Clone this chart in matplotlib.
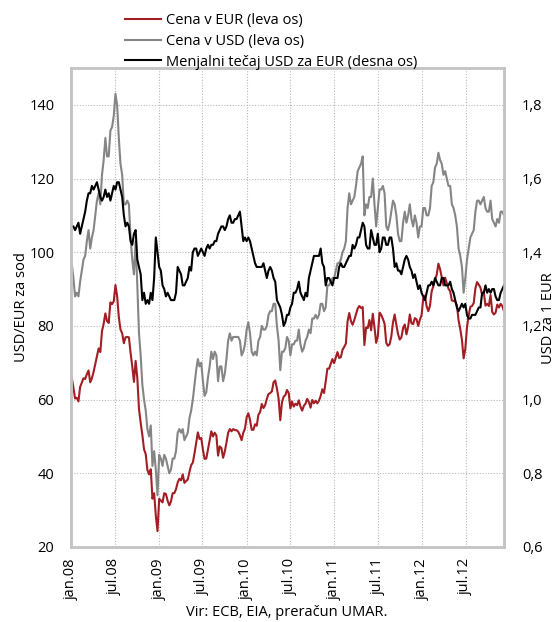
import matplotlib
matplotlib.use("Agg")
import matplotlib.pyplot as plt
import numpy as np
import pandas as pd

plt.rcParams['font.family'] = ['Open Sans', 'DejaVu Sans']

# weekly values (Fridays), jan 2008 - dec 2012
start = '2008-01-04'

# Brent v USD za sod
usd = [
    97, 93, 88, 89, 88, 92, 95, 98, 99, 103, 106, 101, 104,
    106, 110, 114, 116, 113, 121, 125, 131, 126, 126, 133, 134, 137,
    143, 140, 131, 124, 121, 113, 113, 114, 113, 104, 98, 94, 103,
    91, 78, 72, 64, 60, 57, 52, 50, 53, 42, 46, 41, 34,
    # 2009
    45, 44, 42, 45, 44, 42, 40, 41, 44, 44, 46, 51, 52,
    51, 52, 49, 50, 51, 55, 57, 60, 64, 68, 71, 69, 70,
    65, 61, 62, 66, 69, 73, 71, 73, 72, 65, 69, 69, 65,
    67, 71, 76, 78, 76, 77, 77, 77, 77, 76, 72, 73, 75,
    # 2010
    79, 81, 78, 73, 72, 73, 72, 76, 77, 80, 79, 79, 80,
    83, 84, 84, 86, 86, 80, 76, 68, 73, 73, 74, 77, 76,
    72, 75, 75, 76, 76, 79, 75, 73, 74, 76, 77, 79, 78,
    82, 82, 83, 82, 83, 86, 86, 84, 85, 91, 91, 92, 93, 93,
    # 2011
    95, 97, 97, 98, 100, 101, 103, 112, 116, 113, 114, 115,
    118, 122, 123, 124, 126, 110, 113, 112, 115, 115, 120, 113, 107,
    112, 117, 117, 118, 116, 107, 106, 108, 111, 114, 113, 110, 105, 103,
    103, 108, 111, 108, 110, 113, 109, 107, 110, 108, 104, 107, 107,
    # 2012
    112, 112, 110, 110, 112, 118, 119, 123, 124, 127, 125, 124, 121,
    122, 120, 118, 118, 113, 112, 110, 107, 101, 99, 96, 89, 93,
    98, 101, 104, 105, 106, 111, 114, 114, 113, 114, 115, 112, 111,
    111, 114, 109, 108, 107, 109, 108, 111, 111, 110,
]

# Brent v EUR za sod
eur = [
    66.0, 63.3, 60.3, 60.5, 59.5, 63.4, 64.6, 65.8, 65.6, 66.9, 67.9, 64.7, 65.8,
    67.5, 69.6, 71.7, 73.9, 72.9, 78.6, 80.6, 83.4, 81.3, 80.8, 86.4, 85.9, 86.7,
    91.1, 88.1, 82.4, 79.0, 78.0, 75.3, 76.9, 77.0, 76.9, 72.7, 69.0, 64.8, 70.5,
    65.9, 57.4, 53.7, 50.4, 46.5, 45.2, 40.9, 39.7, 41.1, 33.1, 34.6, 28.5, 24.3,
    # 2009
    33.1, 32.6, 32.1, 34.6, 34.4, 32.6, 31.3, 32.3, 34.6, 34.6, 35.7, 37.5, 38.5,
    38.1, 39.7, 37.4, 37.9, 38.3, 40.4, 42.2, 42.9, 45.4, 48.2, 51.1, 49.3, 49.6,
    46.4, 43.9, 44.0, 46.5, 48.9, 51.4, 50.0, 51.0, 50.3, 44.8, 47.3, 46.9, 44.2,
    45.9, 48.3, 51.0, 52.0, 51.4, 52.0, 51.7, 51.7, 51.3, 50.3, 49.0, 51.0, 52.1,
    # 2010
    55.2, 56.3, 54.5, 51.8, 51.8, 53.3, 52.9, 55.9, 56.6, 58.8, 57.7, 58.5, 60.2,
    61.5, 61.8, 62.2, 64.7, 65.2, 63.0, 60.3, 54.4, 59.3, 60.8, 61.2, 62.6, 61.8,
    57.6, 59.5, 58.1, 58.9, 58.5, 59.8, 58.1, 57.0, 58.3, 58.9, 60.2, 59.4, 57.8,
    59.9, 59.0, 59.7, 59.0, 59.7, 61.0, 62.8, 61.8, 64.9, 68.4, 68.4, 69.7, 71.0, 69.9,
    # 2011
    71.4, 72.9, 71.3, 71.5, 73.5, 74.3, 75.2, 81.2, 83.5, 81.3, 80.3, 81.6,
    83.1, 84.7, 85.4, 84.9, 85.1, 74.8, 79.6, 79.4, 81.6, 78.8, 83.3, 79.6, 75.4,
    77.2, 83.6, 83.0, 81.9, 80.6, 75.4, 74.6, 75.0, 77.1, 80.9, 83.1, 80.3, 77.8, 76.3,
    76.9, 79.4, 80.4, 77.7, 79.7, 83.1, 80.7, 80.5, 82.1, 81.8, 80.0, 81.7, 82.9,
    # 2012
    87.5, 88.2, 85.3, 84.0, 85.5, 89.4, 90.8, 92.5, 93.9, 96.9, 95.4, 93.2, 91.0,
    93.1, 91.6, 90.1, 89.4, 86.9, 86.8, 86.6, 85.6, 81.5, 79.2, 76.2, 71.2, 73.8,
    79.7, 82.8, 85.2, 85.4, 86.2, 90.2, 91.9, 91.2, 90.4, 88.4, 89.1, 85.5, 86.0,
    85.4, 88.4, 83.8, 83.1, 83.6, 85.8, 85.0, 86.0, 85.4, 84.0,
]

# menjalni tecaj USD za 1 EUR
rate = [
    1.47, 1.47, 1.46, 1.47, 1.48, 1.45, 1.47, 1.49, 1.51, 1.54, 1.56, 1.56, 1.58,
    1.57, 1.58, 1.59, 1.57, 1.55, 1.54, 1.55, 1.57, 1.55, 1.56, 1.54, 1.56, 1.58,
    1.57, 1.59, 1.59, 1.57, 1.55, 1.50, 1.47, 1.48, 1.47, 1.43, 1.42, 1.45, 1.46,
    1.38, 1.36, 1.34, 1.27, 1.29, 1.26, 1.27, 1.26, 1.29, 1.27, 1.33, 1.44, 1.40,
    # 2009
    1.36, 1.35, 1.31, 1.30, 1.28, 1.29, 1.28, 1.27, 1.27, 1.27, 1.29, 1.36, 1.35,
    1.34, 1.31, 1.31, 1.32, 1.33, 1.36, 1.35, 1.40, 1.41, 1.41, 1.39, 1.40, 1.41,
    1.40, 1.39, 1.41, 1.42, 1.41, 1.42, 1.42, 1.43, 1.43, 1.45, 1.46, 1.47, 1.47,
    1.46, 1.47, 1.49, 1.50, 1.48, 1.48, 1.49, 1.49, 1.50, 1.51, 1.47, 1.43, 1.44,
    # 2010
    1.43, 1.44, 1.43, 1.41, 1.39, 1.37, 1.36, 1.36, 1.36, 1.36, 1.37, 1.35, 1.33,
    1.35, 1.36, 1.35, 1.33, 1.32, 1.27, 1.26, 1.25, 1.23, 1.20, 1.21, 1.23, 1.23,
    1.25, 1.26, 1.29, 1.29, 1.30, 1.32, 1.29, 1.28, 1.27, 1.29, 1.28, 1.33, 1.35,
    1.37, 1.39, 1.39, 1.39, 1.39, 1.41, 1.37, 1.36, 1.31, 1.33, 1.33, 1.32, 1.31, 1.33,
    # 2011
    1.33, 1.33, 1.36, 1.37, 1.36, 1.36, 1.37, 1.38, 1.39, 1.39, 1.42, 1.41,
    1.42, 1.44, 1.44, 1.46, 1.48, 1.47, 1.42, 1.41, 1.41, 1.46, 1.44, 1.42, 1.42,
    1.45, 1.40, 1.41, 1.44, 1.44, 1.42, 1.42, 1.44, 1.44, 1.41, 1.36, 1.37, 1.35, 1.35,
    1.34, 1.36, 1.38, 1.39, 1.38, 1.36, 1.35, 1.33, 1.34, 1.32, 1.30, 1.31, 1.29,
    # 2012
    1.28, 1.27, 1.29, 1.31, 1.31, 1.32, 1.31, 1.33, 1.32, 1.31, 1.31, 1.33, 1.33,
    1.31, 1.31, 1.31, 1.32, 1.30, 1.29, 1.27, 1.25, 1.24, 1.25, 1.26, 1.25, 1.26,
    1.23, 1.22, 1.22, 1.23, 1.23, 1.23, 1.24, 1.25, 1.25, 1.29, 1.29, 1.31, 1.29,
    1.30, 1.29, 1.30, 1.30, 1.28, 1.27, 1.27, 1.29, 1.30, 1.31,
]

tick_dates = ['2008-01-01', '2008-07-01', '2009-01-01', '2009-07-01', '2010-01-01',
              '2010-07-01', '2011-01-01', '2011-07-01', '2012-01-01', '2012-07-01']
tick_labels = ['jan.08', 'jul.08', 'jan.09', 'jul.09', 'jan.10',
               'jul.10', 'jan.11', 'jul.11', 'jan.12', 'jul.12']
left_ticks = [20, 40, 60, 80, 100, 120, 140]
right_ticks = [0.6, 0.8, 1.0, 1.2, 1.4, 1.6, 1.8]

dates = pd.date_range(start, periods=len(usd), freq='7D')

red = '#a31d24'
grey = '#858585'
frame = '#c4c4c4'
fs = 10.5

fig = plt.figure(figsize=(5.59, 6.22), dpi=100)
ax = fig.add_axes([0.127, 0.1206, 0.7746, 0.7701])
ax2 = ax.twinx()

l1, = ax.plot(dates, eur, color=red, lw=1.5, label='Cena v EUR (leva os)')
l2, = ax.plot(dates, usd, color=grey, lw=1.5, label='Cena v USD (leva os)')
l3, = ax2.plot(dates, rate, color='black', lw=1.5, label='Menjalni tečaj USD za EUR (desna os)')

ax.set_xlim(pd.Timestamp('2008-01-01'), pd.Timestamp('2012-12-07'))
ax.set_ylim(20, 150)
ax2.set_ylim(0.6, 1.9)

ax.set_xticks(pd.to_datetime(tick_dates))
ax.set_xticklabels(tick_labels, rotation=90, fontsize=fs)
ax.set_yticks(left_ticks)
ax.set_yticklabels([str(v) for v in left_ticks], fontsize=fs)
ax2.set_yticks(right_ticks)
ax2.set_yticklabels([('%.1f' % v).replace('.', ',') for v in right_ticks], fontsize=fs)

ax.tick_params(axis='both', length=0)
ax.tick_params(axis='y', pad=12)
ax.tick_params(axis='x', pad=8)
ax2.tick_params(axis='y', length=0, pad=13)

ax.grid(True, linestyle=(0, (1, 1.5)), color='#b8b8b8', linewidth=0.8)
for a in (ax, ax2):
    for s in a.spines.values():
        s.set_color(frame)
        s.set_linewidth(1.8)

ax.set_ylabel('USD/EUR za sod', fontsize=fs, labelpad=0)
fig.text(541 / 559, 1 - 318 / 622, 'USD za 1 EUR', rotation=90, fontsize=fs,
         ha='left', va='center')

fig.legend(handles=[l1, l2, l3], loc='upper left', bbox_to_anchor=(119 / 559, 1 - 7 / 622),
           frameon=False, fontsize=fs, handlelength=2.5, handletextpad=0.35,
           labelspacing=0.4, borderaxespad=0)

fig.text(287 / 559, 1 - 612 / 622, 'Vir: ECB, EIA, preračun UMAR.', fontsize=fs,
         ha='center', va='center')

fig.savefig('out.png', dpi=100)
